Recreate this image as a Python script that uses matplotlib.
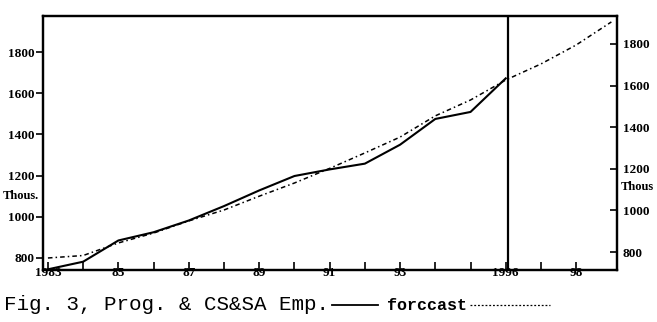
import matplotlib
matplotlib.use("Agg")
import matplotlib.pyplot as plt
from matplotlib.lines import Line2D

plt.rcParams["font.family"] = ["Liberation Serif", "DejaVu Serif"]

# data (thousands)
years = [1983, 1984, 1985, 1986, 1987, 1988, 1989, 1990, 1991, 1992, 1993, 1994, 1995, 1996]
actual = [745, 782, 885, 925, 982, 1052, 1128, 1198, 1230, 1258, 1350, 1475, 1509, 1672]
fc_years = [1983, 1984, 1985, 1986, 1987, 1988, 1989, 1990, 1991, 1992, 1993, 1994, 1995, 1996,
            1997, 1998, 1999]
forecast = [800, 812, 873, 921, 980, 1033, 1100, 1164, 1235, 1310, 1387, 1490, 1567, 1664,
            1742, 1834, 1946]
yticks = [800, 1000, 1200, 1400, 1600, 1800]
xtick_pos = [1983, 1985, 1987, 1989, 1991, 1993, 1996, 1998]
xtick_lab = ["1983", "85", "87", "89", "91", "93", "1996", "98"]

W, H = 657, 322
fig = plt.figure(figsize=(W / 100, H / 100), dpi=100)
ax = fig.add_axes([43 / W, 1 - 270 / H, (617 - 43) / W, (270 - 16) / H])

ax.plot(years, actual, color="black", lw=1.5, zorder=3)
ax.plot(fc_years, forecast, color="black", lw=1.1, linestyle=(0, (3, 2, 1, 2)), zorder=3)
ax.axvline(1996.07, color="black", lw=1.6)

ax.set_xlim(1982.86, 1999.16)
ax.set_ylim(741.7, 1974.8)
ax.set_yticks(yticks)
ax.set_yticklabels([str(v) for v in yticks], fontsize=9.5, fontweight="bold")
ax.tick_params(axis="y", direction="out", length=5, width=1.2, pad=1)

ax.set_xticks(xtick_pos)
ax.set_xticklabels(xtick_lab, fontsize=9.5, fontweight="bold")
ax.set_xticks(range(1983, 1999), minor=True)
ax.tick_params(axis="x", which="both", direction="in", length=6, width=1.2, pad=-2)

ax2 = ax.twinx()
ax2.set_ylim(713.5, 1934.6)
ax2.set_yticks(yticks)
ax2.set_yticklabels([str(v) for v in yticks], fontsize=9.5, fontweight="bold")
ax2.tick_params(axis="y", direction="in", length=5, width=1.2, pad=4)

for a in (ax, ax2):
    for s in a.spines.values():
        s.set_linewidth(1.6)

fig.text(3 / W, 1 - 196 / H, "Thous.", fontsize=9, fontweight="bold", va="center", ha="left")
fig.text(621 / W, 1 - 187 / H, "Thous", fontsize=9, fontweight="bold", va="center", ha="left")

# caption with inline legend
mono = ["Liberation Mono", "DejaVu Sans Mono"]
fig.text(4 / W, 1 - 310 / H, "Fig. 3, Prog. & CS&SA Emp.", fontsize=15,
         family=mono, va="baseline", ha="left")
fig.add_artist(Line2D([332 / W, 378 / W], [1 - 305 / H] * 2, color="black", lw=1.3,
                      transform=fig.transFigure))
fig.text(387 / W, 1 - 310 / H, "forccast", fontsize=12, fontweight="bold",
         family=mono, va="baseline", ha="left")
fig.add_artist(Line2D([470 / W, 550 / W], [1 - 305 / H] * 2, color="black", lw=0.9,
                      linestyle=(0, (1.5, 1.5)), transform=fig.transFigure))

fig.savefig("out.png", dpi=100)
